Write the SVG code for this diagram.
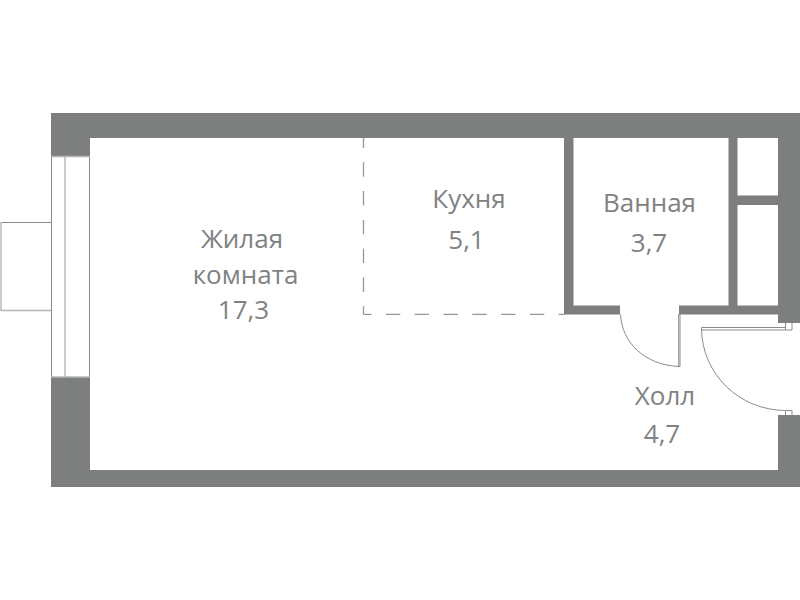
<svg xmlns="http://www.w3.org/2000/svg" width="800" height="600" viewBox="0 0 800 600">
<style>
.w{fill:#7d7f7e}
.l{fill:none;stroke:#8a8c8b;stroke-width:1}
.g{fill:none;stroke:#b4b5b5;stroke-width:1.4}
.t{font-family:"Open Sans","Noto Sans",sans-serif;font-size:26px;fill:#808282;text-anchor:middle}
</style>
<rect width="800" height="600" fill="#fff"/>
<g id="walls">
<path class="w" d="M51 113H800V323H778V138H737.500V195.500H778V205H737.500V305.500H778V314.500H679V305.500H728.500V138H573.500V305.500H620V314.500H564V138H90V156H51Z"/>
<path class="w" d="M51 377H90V470H778V415H800V487H51Z"/>
</g>
<g id="window">
<path class="l" d="M51.500 156V377M89.500 156V377"/>
<path class="g" d="M65 156V377"/>
<path class="g" d="M51 156.500H90M51 377H90" stroke-width="1"/>
</g>
<g id="balcony">
<path class="l" d="M51 222.500H1.500"/>
<path class="g" d="M1 222V311M1 310.500H51"/>
</g>
<g id="kitchen-zone">
<path d="M363.500 314.300V138M363.500 314.300H565" fill="none" stroke="#969897" stroke-width="1.300" stroke-dasharray="14.400 14.400" stroke-dashoffset="6.400"/>
</g>
<g id="doors">
<path class="l" d="M620.500 314.500C622 343 645 365 679 366.500"/>
<path class="l" d="M678.700 314V366.500H680V314"/>
<path class="l" d="M701.500 328.500C702 375 740 410 785 410.500"/>
<path class="l" d="M701.500 327.500H785.500V330H701.500Z"/>
<path class="l" d="M785.500 323V330H792V323"/>
<path class="l" d="M785.500 415V410.500H792V415"/>
</g>
<g id="label-living">
<text class="t" x="242" y="247.500">Жилая</text>
<text class="t" x="245.500" y="283.500">комната</text>
<text class="t" x="243.500" y="319">17,3</text>
</g>
<g id="label-kitchen">
<text class="t" x="469" y="208">Кухня</text>
<text class="t" x="466.500" y="248.500">5,1</text>
</g>
<g id="label-bath">
<text class="t" x="649.500" y="212">Ванная</text>
<text class="t" x="649" y="251.500">3,7</text>
</g>
<g id="label-hall">
<text class="t" x="665" y="405">Холл</text>
<text class="t" x="662" y="442.500">4,7</text>
</g>
</svg>
